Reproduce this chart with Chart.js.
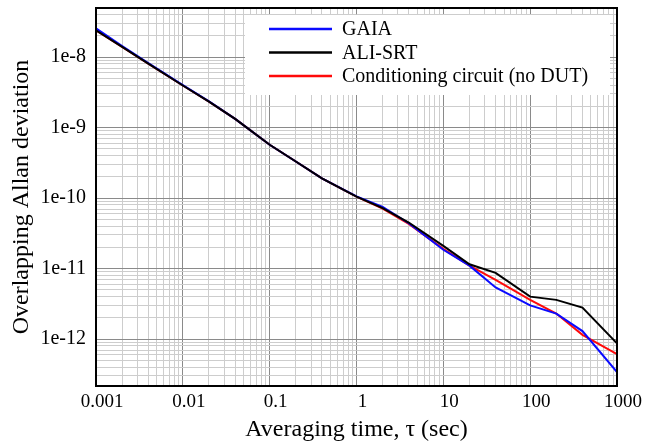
<!DOCTYPE html>
<html>
<head>
<meta charset="utf-8">
<title>Overlapping Allan deviation</title>
<script src="https://cdn.jsdelivr.net/npm/chart.js@4.4.0/dist/chart.umd.min.js"></script>
<style>
    html, body { margin: 0; padding: 0; background: #fff; }
    #wrap { width: 645px; height: 447px; }
</style>
</head>
<body>
<div id="wrap"><canvas id="chart" width="645" height="447"></canvas></div>
<script>
// Averaging time, tau (sec)
const tau = [0.001, 0.002, 0.004, 0.01, 0.02, 0.04, 0.1, 0.2, 0.4, 1, 2, 4, 10, 20, 40, 100, 200, 400, 1000];

// Overlapping Allan deviation
const gaia = [2.55e-8, 1.43e-8, 8.2e-9, 4.0e-9, 2.35e-9, 1.33e-9, 5.7e-10, 3.3e-10, 1.9e-10, 1.06e-10, 7.5e-11, 4.4e-11, 1.85e-11, 1.1e-11, 5.4e-12, 3.0e-12, 2.3e-12, 1.3e-12, 3.4e-13];
const aliSrt = [2.4e-8, 1.4e-8, 8.1e-9, 3.95e-9, 2.34e-9, 1.33e-9, 5.7e-10, 3.3e-10, 1.9e-10, 1.05e-10, 7.2e-11, 4.5e-11, 2.1e-11, 1.15e-11, 8.7e-12, 4.0e-12, 3.6e-12, 2.8e-12, 8.7e-13];
const conditioning = [2.4e-8, 1.4e-8, 8.1e-9, 3.95e-9, 2.34e-9, 1.33e-9, 5.7e-10, 3.3e-10, 1.9e-10, 1.05e-10, 7.1e-11, 4.3e-11, 1.9e-11, 1.1e-11, 6.9e-12, 3.6e-12, 2.3e-12, 1.15e-12, 6.1e-13];

const seriesLabels = ['GAIA', 'ALI-SRT', 'Conditioning circuit (no DUT)'];

// Tick labels (only decades get a label)
const xTickValues = [0.001, 0.01, 0.1, 1, 10, 100, 1000];
const xTickLabels = ['0.001', '0.01', '0.1', '1', '10', '100', '1000'];
const yTickValues = [1e-12, 1e-11, 1e-10, 1e-9, 1e-8];
const yTickLabels = ['1e-12', '1e-11', '1e-10', '1e-9', '1e-8'];

const FONT = "'Liberation Serif', 'Times New Roman', serif";

// 1..9 x 10^n ticks so every grid line of a log paper is drawn
function logPaperTicks(scale) {
    const ticks = [];
    const lo = Math.floor(Math.log10(scale.min));
    const hi = Math.ceil(Math.log10(scale.max));
    for (let e = lo; e <= hi; e++) {
        for (let m = 1; m <= 9; m++) {
            const v = m * Math.pow(10, e);
            if (v >= scale.min * 0.999999 && v <= scale.max * 1.000001) ticks.push({ value: v });
        }
    }
    scale.ticks = ticks;
}

function isDecade(v) {
    const l = Math.log10(v);
    return Math.abs(l - Math.round(l)) < 1e-6;
}

function labelFor(values, labels, v) {
    const i = values.findIndex(t => Math.abs(Math.log10(t) - Math.log10(v)) < 1e-6);
    return i >= 0 ? labels[i] : '';
}

function gridColor(ctx) {
    return ctx.tick && isDecade(ctx.tick.value) ? '#8a8a8a' : '#cdcdcd';
}

// White legend box inside the plot plus the black frame
const frameAndLegend = {
    id: 'frameAndLegend',
    afterDatasetsDraw(chart) {
        const { ctx, chartArea: a } = chart;
        ctx.save();
        ctx.fillStyle = '#fff';
        ctx.fillRect(a.left + 149, a.top + 7, a.right - a.left - 156, 80);

        ctx.font = '20px ' + FONT;
        ctx.textBaseline = 'middle';
        ctx.textAlign = 'left';
        chart.data.datasets.forEach((ds, i) => {
            const y = a.top + 21 + i * 23.5;
            ctx.strokeStyle = ds.borderColor;
            ctx.lineWidth = 2.5;
            ctx.beginPath();
            ctx.moveTo(a.left + 173, y);
            ctx.lineTo(a.left + 236, y);
            ctx.stroke();
            ctx.fillStyle = '#000';
            ctx.fillText(ds.label, a.left + 246, y + 1);
        });

        ctx.strokeStyle = '#000';
        ctx.lineWidth = 2;
        ctx.strokeRect(a.left, a.top, a.right - a.left, a.bottom - a.top);
        ctx.restore();
    }
};

document.addEventListener('DOMContentLoaded', () => {
    const ctx = document.getElementById('chart').getContext('2d');

    new Chart(ctx, {
        type: 'line',
        data: {
            labels: tau,
            datasets: [
                {
                    label: seriesLabels[0],
                    data: tau.map((t, i) => ({ x: t, y: gaia[i] })),
                    borderColor: '#0a0aff',
                    order: 1
                },
                {
                    label: seriesLabels[1],
                    data: tau.map((t, i) => ({ x: t, y: aliSrt[i] })),
                    borderColor: '#000000',
                    order: 0
                },
                {
                    label: seriesLabels[2],
                    data: tau.map((t, i) => ({ x: t, y: conditioning[i] })),
                    borderColor: '#ff0a0a',
                    order: 2
                }
            ]
        },
        options: {
            responsive: false,
            animation: false,
            events: [],
            layout: { padding: { top: 8, right: 28, bottom: 0, left: 0 } },
            elements: {
                line: { borderWidth: 2, tension: 0, fill: false },
                point: { radius: 0 }
            },
            plugins: {
                legend: { display: false },
                tooltip: { enabled: false }
            },
            scales: {
                x: {
                    type: 'logarithmic',
                    min: 0.001,
                    max: 1000,
                    afterBuildTicks: logPaperTicks,
                    afterFit: scale => {
                        scale.height = 61;
                        scale.paddingLeft = 0;
                        scale.paddingRight = 0;
                    },
                    grid: { color: gridColor, lineWidth: 1, drawTicks: false },
                    border: { display: false },
                    ticks: {
                        autoSkip: false,
                        maxRotation: 0,
                        padding: 5,
                        labelOffset: 6,
                        color: '#000',
                        font: { family: FONT, size: 19 },
                        callback: v => labelFor(xTickValues, xTickLabels, v)
                    },
                    title: {
                        display: true,
                        text: 'Averaging time, τ (sec)',
                        color: '#000',
                        font: { family: FONT, size: 24 },
                        padding: { top: 0, bottom: 3 }
                    }
                },
                y: {
                    type: 'logarithmic',
                    min: 2.16e-13,
                    max: 4.97e-8,
                    afterBuildTicks: logPaperTicks,
                    afterFit: scale => {
                        scale.width = 96;
                        scale.paddingTop = 0;
                        scale.paddingBottom = 0;
                    },
                    grid: { color: gridColor, lineWidth: 1, drawTicks: false },
                    border: { display: false },
                    ticks: {
                        autoSkip: false,
                        padding: 10,
                        color: '#000',
                        font: { family: FONT, size: 20 },
                        callback: v => labelFor(yTickValues, yTickLabels, v)
                    },
                    title: {
                        display: true,
                        text: 'Overlapping Allan deviation',
                        color: '#000',
                        font: { family: FONT, size: 24 },
                        padding: { top: 7, bottom: 0 }
                    }
                }
            }
        },
        plugins: [frameAndLegend]
    });
});
</script>
</body>
</html>
